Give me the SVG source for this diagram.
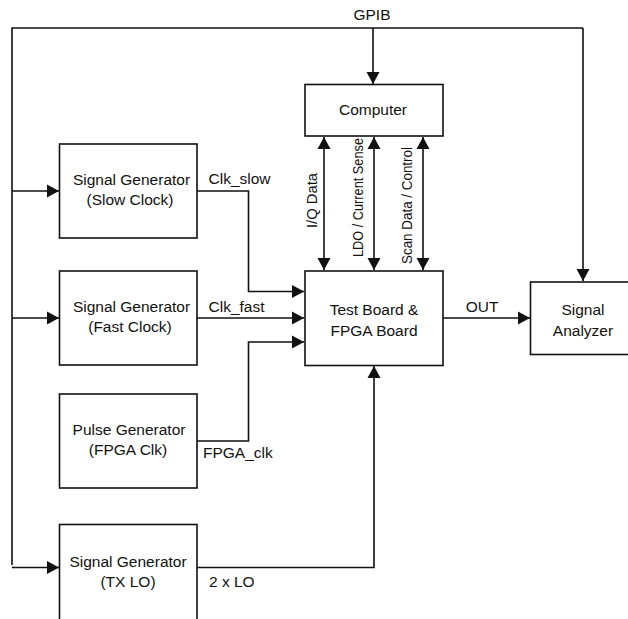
<svg xmlns="http://www.w3.org/2000/svg" width="628" height="619" viewBox="0 0 628 619">
<style>
.box{fill:#fff;stroke:#111;stroke-width:1.6}
.ln{fill:none;stroke:#111;stroke-width:1.6}
text{font-family:"Liberation Sans",Arial,sans-serif;font-size:15.5px;fill:#111}
.c{text-anchor:middle}
</style>
<defs>
<marker id="ah" markerUnits="userSpaceOnUse" markerWidth="13" markerHeight="14" refX="12" refY="6.5" orient="auto-start-reverse" viewBox="0 0 13 13">
<path d="M0,0 L12,6.5 L0,13 Z" fill="#111"/>
</marker>
</defs>
<rect width="628" height="619" fill="#fff"/>
<g id="connectors">
<path class="ln" d="M12,565 V28 H583"/>
<path class="ln" d="M373,28 V84" marker-end="url(#ah)"/>
<path class="ln" d="M583,28 V281" marker-end="url(#ah)"/>
<path class="ln" d="M12,191 H59" marker-end="url(#ah)"/>
<path class="ln" d="M12,318 H59" marker-end="url(#ah)"/>
<path class="ln" d="M12,567.5 H59" marker-end="url(#ah)"/>
<path class="ln" d="M324,137 V270" marker-start="url(#ah)" marker-end="url(#ah)"/>
<path class="ln" d="M374,137 V270" marker-start="url(#ah)" marker-end="url(#ah)"/>
<path class="ln" d="M423,137 V270" marker-start="url(#ah)" marker-end="url(#ah)"/>
<path class="ln" d="M197,191 H248.5 V291.5 H304" marker-end="url(#ah)"/>
<path class="ln" d="M197,318 H304" marker-end="url(#ah)"/>
<path class="ln" d="M197,441 H248.5 V342 H304" marker-end="url(#ah)"/>
<path class="ln" d="M197,567.5 H374 V366" marker-end="url(#ah)"/>
<path class="ln" d="M443,318 H530" marker-end="url(#ah)"/>
<text x="372" y="20" class="c">GPIB</text>
<text x="208.5" y="184">Clk_slow</text>
<text x="208.5" y="312">Clk_fast</text>
<text x="203" y="458">FPGA_clk</text>
<text x="209" y="587">2 x LO</text>
<text x="482" y="312" class="c">OUT</text>
<text transform="translate(317,200.5) rotate(-90)" class="c" textLength="55" lengthAdjust="spacingAndGlyphs">I/Q Data</text>
<text transform="translate(363,197.5) rotate(-90)" class="c" textLength="119" lengthAdjust="spacingAndGlyphs">LDO / Current Sense</text>
<text transform="translate(412,205.5) rotate(-90)" class="c" textLength="117" lengthAdjust="spacingAndGlyphs">Scan Data / Control</text>
</g>
<g id="computer">
<rect class="box" x="305" y="84.5" width="138" height="51.5"/>
<text x="373" y="115" class="c">Computer</text>
</g>
<g id="sg-slow">
<rect class="box" x="59.5" y="144" width="137.5" height="94"/>
<text x="131.5" y="185" class="c">Signal Generator</text>
<text x="130" y="205" class="c">(Slow Clock)</text>
</g>
<g id="sg-fast">
<rect class="box" x="59.5" y="271" width="137.5" height="94"/>
<text x="131.5" y="312" class="c">Signal Generator</text>
<text x="130" y="332" class="c">(Fast Clock)</text>
</g>
<g id="pulse">
<rect class="box" x="59.5" y="394" width="137.5" height="94"/>
<text x="129" y="435" class="c">Pulse Generator</text>
<text x="128" y="455" class="c">(FPGA Clk)</text>
</g>
<g id="sg-txlo">
<rect class="box" x="59.5" y="524.5" width="137.5" height="100"/>
<text x="128" y="567" class="c">Signal Generator</text>
<text x="128" y="587" class="c">(TX LO)</text>
</g>
<g id="testboard">
<rect class="box" x="305" y="271" width="138" height="94.5"/>
<text x="374" y="315" class="c">Test Board &amp;</text>
<text x="374" y="336" class="c">FPGA Board</text>
</g>
<g id="analyzer">
<rect class="box" x="530.5" y="282" width="105" height="72.5"/>
<text x="583" y="315" class="c">Signal</text>
<text x="583" y="336" class="c">Analyzer</text>
</g>
</svg>
